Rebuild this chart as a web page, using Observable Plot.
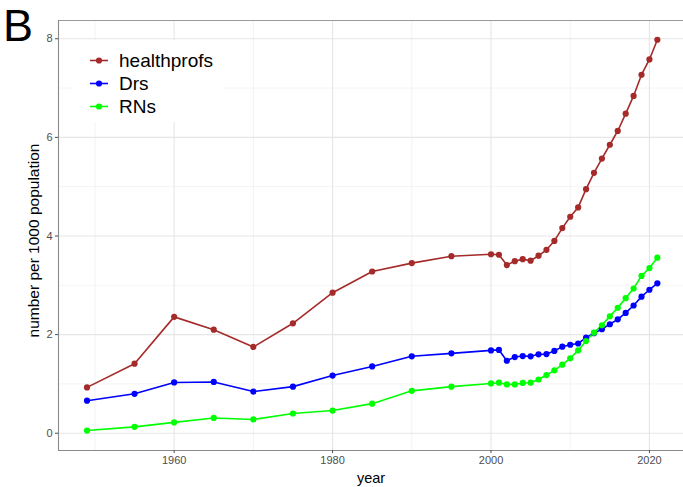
<!DOCTYPE html>
<html>
<head>
<meta charset="utf-8">
<script src="https://cdn.jsdelivr.net/npm/d3@7"></script>
<script src="https://cdn.jsdelivr.net/npm/@observablehq/plot@0.6"></script>
<style>
  html, body { margin: 0; padding: 0; background: #fff; }
  #wrap { position: relative; width: 683px; height: 487px; overflow: hidden; font-family: "Liberation Sans", Arial, Helvetica, sans-serif; }
  #tag { position: absolute; left: 3px; top: 3px; font-size: 45px; line-height: 1; color: #000; }
  #legend { position: absolute; left: 73px; top: 40px; width: 150px; height: 82px; background: #fff; }
  .row { position: absolute; left: 0; height: 23px; width: 150px; }
  .row svg { position: absolute; left: 15px; top: 0; }
  .row span { position: absolute; left: 46px; top: 0; font-size: 19px; line-height: 23px; color: #000; }
</style>
</head>
<body>
<div id="wrap">
  <div id="chart"></div>
  <div id="tag">B</div>
  <div id="legend"></div>
</div>
<script>
const years = [1949,1955,1960,1965,1970,1975,1980,1985,1990,1995,
  2000,2001,2002,2003,2004,2005,2006,2007,2008,2009,
  2010,2011,2012,2013,2014,2015,2016,2017,2018,2019,2020,2021];
const healthprofs = [0.93,1.41,2.36,2.10,1.75,2.23,2.85,3.28,3.45,3.59,
  3.63,3.62,3.41,3.49,3.53,3.50,3.60,3.72,3.90,4.16,
  4.39,4.58,4.95,5.28,5.57,5.85,6.13,6.48,6.84,7.27,7.58,7.98];
const drs = [0.66,0.80,1.03,1.04,0.845,0.945,1.17,1.355,1.56,1.62,
  1.68,1.69,1.47,1.545,1.565,1.56,1.60,1.605,1.67,1.755,
  1.795,1.82,1.94,2.03,2.11,2.21,2.31,2.44,2.59,2.77,2.91,3.04];
const rns = [0.055,0.13,0.22,0.31,0.28,0.40,0.46,0.60,0.86,0.945,
  1.01,1.025,0.99,0.99,1.02,1.025,1.09,1.18,1.275,1.39,
  1.52,1.68,1.87,2.04,2.19,2.37,2.545,2.74,2.935,3.19,3.35,3.56];
const seriesNames = ["healthprofs", "Drs", "RNs"];
const seriesColors = ["#a52a2a", "#0000ff", "#00ff00"];
const xMajor = [1960, 1980, 2000, 2020];
const xMinor = [1950, 1970, 1990, 2010];
const yMajor = [0, 2, 4, 6, 8];
const yMinor = [1, 3, 5, 7];
const xDomain = [1945.4, 2024.3];
const yDomain = [-0.35, 8.37];

const seriesValues = [healthprofs, drs, rns];
const data = [];
seriesNames.forEach((s, i) => years.forEach((yr, j) => data.push({year: yr, value: seriesValues[i][j], series: s})));

const chart = Plot.plot({
  width: 683,
  height: 487,
  marginLeft: 58,
  marginRight: 0,
  marginTop: 20,
  marginBottom: 37,
  style: {fontFamily: '"Liberation Sans", Arial, Helvetica, sans-serif', background: "#fff"},
  x: {domain: xDomain, label: null},
  y: {domain: yDomain, label: null},
  color: {domain: seriesNames, range: seriesColors},
  marks: [
    Plot.ruleY(yMinor, {stroke: "#ebebeb", strokeWidth: 0.6}),
    Plot.ruleX(xMinor, {stroke: "#ebebeb", strokeWidth: 0.6}),
    Plot.ruleY(yMajor, {stroke: "#e6e6e6", strokeWidth: 1.1}),
    Plot.ruleX(xMajor, {stroke: "#e6e6e6", strokeWidth: 1.1}),
    Plot.ruleY([yDomain[1]], {stroke: "#9a9a9a", strokeWidth: 1.1}),
    Plot.ruleX([xDomain[0]], {stroke: "#8a8a8a", strokeWidth: 1.1}),
    Plot.ruleY([yDomain[0]], {stroke: "#8a8a8a", strokeWidth: 1.1}),
    Plot.axisX({ticks: xMajor, tickFormat: d => String(d), tickSize: 3, tickPadding: 3, fontSize: 11, color: "#4d4d4d", label: null}),
    Plot.axisY({ticks: yMajor, tickSize: 3, tickPadding: 3, fontSize: 11, color: "#4d4d4d", label: null}),
    Plot.line(data, {x: "year", y: "value", z: "series", stroke: "series", strokeWidth: 1.6}),
    Plot.dot(data, {x: "year", y: "value", fill: "series", r: 3.1}),
    Plot.text(["number per 1000 population"], {frameAnchor: "left", textAnchor: "middle", lineAnchor: "middle", rotate: -90, dx: -24, dy: 5, fontSize: 15.5, fill: "#000"}),
    Plot.text(["year"], {frameAnchor: "bottom", textAnchor: "middle", lineAnchor: "middle", dy: 28, fontSize: 14.5, fill: "#000"})
  ]
});
document.getElementById("chart").appendChild(chart);

const legend = document.getElementById("legend");
seriesNames.forEach((name, i) => {
  const row = document.createElement("div");
  row.className = "row";
  row.style.top = (9 + i * 23) + "px";
  row.innerHTML = `<svg width="24" height="23"><line x1="2" x2="20" y1="11.5" y2="11.5" stroke="${seriesColors[i]}" stroke-width="1.6"/><circle cx="11" cy="11.5" r="3.1" fill="${seriesColors[i]}"/></svg><span>${name}</span>`;
  legend.appendChild(row);
});
</script>
</body>
</html>
